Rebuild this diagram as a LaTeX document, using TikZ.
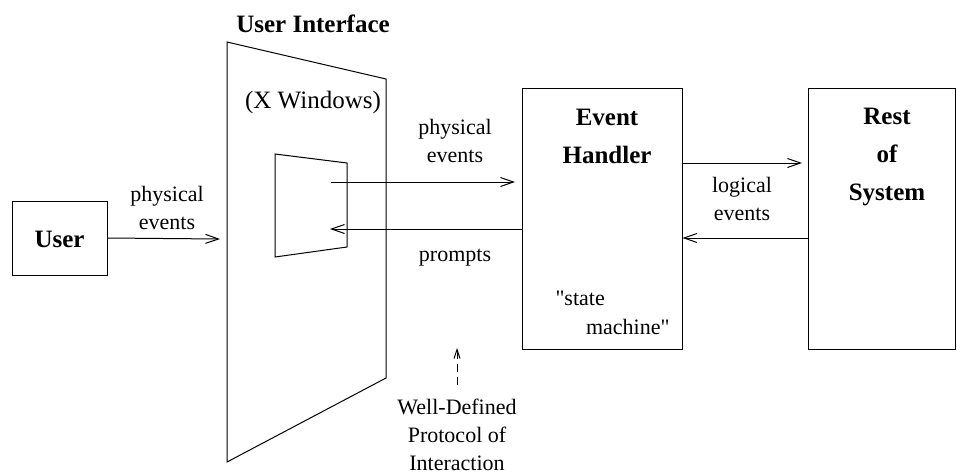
\documentclass[tikz,border=0pt]{standalone}
\usepackage{fontspec}
\setmainfont{Liberation Serif}[Ligatures=TeXOff]
\usetikzlibrary{arrows.meta}

\begin{document}
\begin{tikzpicture}[x=1pt,y=-1pt,line width=1pt,
  lbl/.style={font=\fontsize{22}{28}\selectfont,align=center,inner sep=0pt},
  ttl/.style={font=\fontsize{25}{38}\selectfont\bfseries,align=center,inner sep=0pt},
  box/.style={draw,rectangle,inner sep=0pt},
  arr/.style={-{Straight Barb[length=13pt,width=9pt,line width=1pt]}},
  hint/.style={dash pattern=on 8pt off 5pt,-{Straight Barb[length=9pt,width=6pt,line width=1pt]}}]
\useasboundingbox (0,0) rectangle (957,474);

% boxes
\node[box,minimum width=95pt,minimum height=74pt] (user) at (59.5,238) {};
\node[ttl] (usertxt) at (59.5,239) {User};
\node[box,minimum width=160pt,minimum height=261pt] (eh) at (602,218.5) {};
\node[box,minimum width=147pt,minimum height=261pt] (rest) at (881.5,218.5) {};

% user interface screen and inner window
\coordinate (ui1) at (227,42);
\coordinate (ui2) at (386,79);
\coordinate (ui3) at (386,378);
\coordinate (ui4) at (227,462);
\draw (ui1) -- (ui2) -- (ui3) -- (ui4) -- cycle;
\coordinate (w1) at (275,154);
\coordinate (w2) at (347,163);
\coordinate (w3) at (347,247);
\coordinate (w4) at (275,257);
\draw (w1) -- (w2) -- (w3) -- (w4) -- cycle;

% titles
\node[ttl] (uititle) at (313,24) {User Interface};
\node[lbl,font=\fontsize{25}{30}\selectfont] (xwin) at (313,102) {(X Windows)};
\node[ttl] (ehtxt) at (607,136) {Event\\Handler};
\node[ttl] (resttxt) at (887,157.5) {Rest\\of\\System};

% connectors
\coordinate (uiin) at (220,239);
\draw[arr] (user.east) -- (uiin);
\node[lbl] (pe1) at (167,207.5) {physical\\events};

\coordinate (wout) at (331,182);
\coordinate (ehin) at (515,182);
\draw[arr] (wout) -- (ehin);
\node[lbl] (pe2) at (455,141) {physical\\events};

\coordinate (win) at (330,229);
\draw[arr] (eh.west |- win) -- (win);
\node[lbl] (prompts) at (455,258) {prompts};

\coordinate (ehout) at (682,163);
\coordinate (restin) at (802,163);
\draw[arr] (ehout) -- (restin);
\coordinate (restout) at (808,238);
\draw[arr] (restout) -- (eh.east |- restout);
\node[lbl] (le) at (742,198.5) {logical\\events};

% state machine note
\node[lbl,anchor=west] (sm1) at (555,298) {"state};
\node[lbl,anchor=east] (sm2) at (670,327) {machine"};

% protocol note
\node[lbl] (proto) at (457,434.5) {Well-Defined\\Protocol of\\Interaction};
\coordinate (protop) at (457,348);
\draw[hint] (457,385) -- (protop);
\end{tikzpicture}
\end{document}
